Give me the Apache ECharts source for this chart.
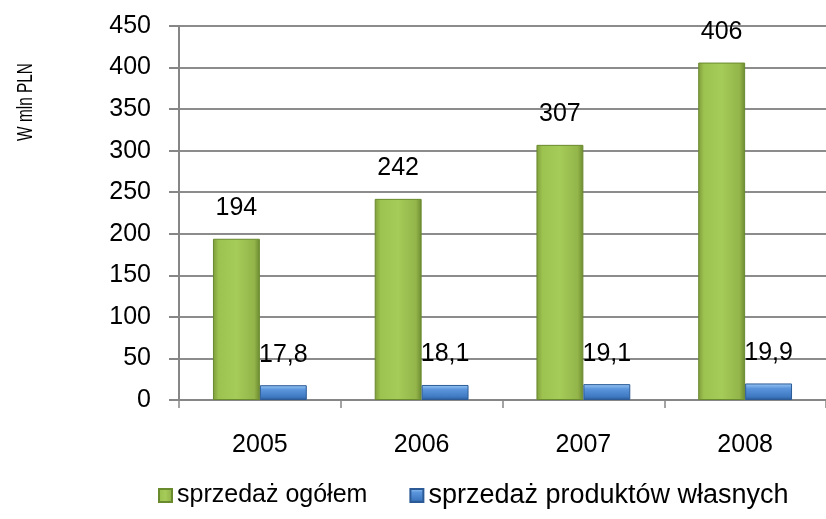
<!DOCTYPE html>
<html>
<head>
<meta charset="utf-8">
<script src="https://cdn.jsdelivr.net/npm/echarts@6/dist/echarts.min.js"></script>
<style>
html,body{margin:0;padding:0;background:#fff;}
#chart{width:826px;height:519px;}
</style>
</head>
<body>
<div id="chart"></div>
<script>
var categories = ['2005', '2006', '2007', '2008'];
var salesTotal = [194, 242, 307, 406];
var salesOwn = [17.8, 18.1, 19.1, 19.9];
var seriesNames = ['sprzedaż ogółem', 'sprzedaż produktów własnych'];
var yAxisTitle = 'W mln PLN';

var FONT = '"Liberation Sans", Arial, sans-serif';

var greenFill = new echarts.graphic.LinearGradient(0, 0, 1, 0, [
  {offset: 0, color: '#7f9c3c'},
  {offset: 0.12, color: '#9cc24f'},
  {offset: 0.5, color: '#a5cb58'},
  {offset: 0.88, color: '#93b54a'},
  {offset: 1, color: '#6c8a30'}
]);
var blueFill = new echarts.graphic.LinearGradient(0, 0, 0, 1, [
  {offset: 0, color: '#9ccaf5'},
  {offset: 0.3, color: '#5b95dc'},
  {offset: 0.8, color: '#3e78c0'},
  {offset: 1, color: '#2a5791'}
]);

var chart = echarts.init(document.getElementById('chart'), null, {renderer: 'canvas'});
chart.setOption({
  animation: false,
  backgroundColor: '#ffffff',
  textStyle: {fontFamily: FONT},
  grid: {left: 179, right: 0, top: 26, bottom: 119, containLabel: false},
  legend: {
    data: [
      {name: seriesNames[0], textStyle: {fontSize: 25}},
      {name: seriesNames[1], textStyle: {fontSize: 27}}
    ],
    left: 153,
    top: 477,
    itemWidth: 13,
    itemHeight: 13,
    itemGap: 42,
    icon: 'rect',
    textStyle: {fontSize: 25, color: '#000', fontFamily: FONT}
  },
  xAxis: {
    type: 'category',
    data: categories,
    axisLine: {lineStyle: {color: '#868686', width: 2}},
    axisTick: {show: true, length: 8, lineStyle: {color: '#868686', width: 1.5}},
    axisLabel: {fontSize: 25, color: '#000', margin: 33, fontFamily: FONT}
  },
  yAxis: {
    type: 'value',
    min: 0,
    max: 450,
    interval: 50,
    axisLine: {show: true, lineStyle: {color: '#868686', width: 2}},
    axisTick: {show: true, length: 10, lineStyle: {color: '#868686', width: 2}},
    splitLine: {show: true, lineStyle: {color: '#8c8c8c', width: 2}},
    axisLabel: {fontSize: 25, color: '#000', margin: 28, fontFamily: FONT}
  },
  graphic: [{
    type: 'text',
    x: 26,
    y: 102,
    rotation: Math.PI / 2,
    scaleX: 0.7,
    style: {
      text: yAxisTitle,
      fontSize: 22,
      fontFamily: FONT,
      fill: '#000',
      align: 'center',
      verticalAlign: 'middle'
    }
  }],
  series: [{
    name: seriesNames[0],
    type: 'bar',
    data: salesTotal,
    barGap: '0%',
    barCategoryGap: '42%',
    itemStyle: {color: greenFill, borderColor: '#6a8a2e', borderWidth: 1},
    label: {show: true, position: 'top', distance: 18, fontSize: 25, color: '#000', fontFamily: FONT}
  }, {
    name: seriesNames[1],
    type: 'bar',
    data: salesOwn,
    itemStyle: {color: blueFill, borderColor: '#2b5a96', borderWidth: 1},
    label: {
      show: true, position: 'top', distance: 18, fontSize: 25, color: '#000', fontFamily: FONT,
      formatter: function (p) { return String(p.value.toFixed(1)).replace('.', ','); }
    }
  }]
});
</script>
</body>
</html>
